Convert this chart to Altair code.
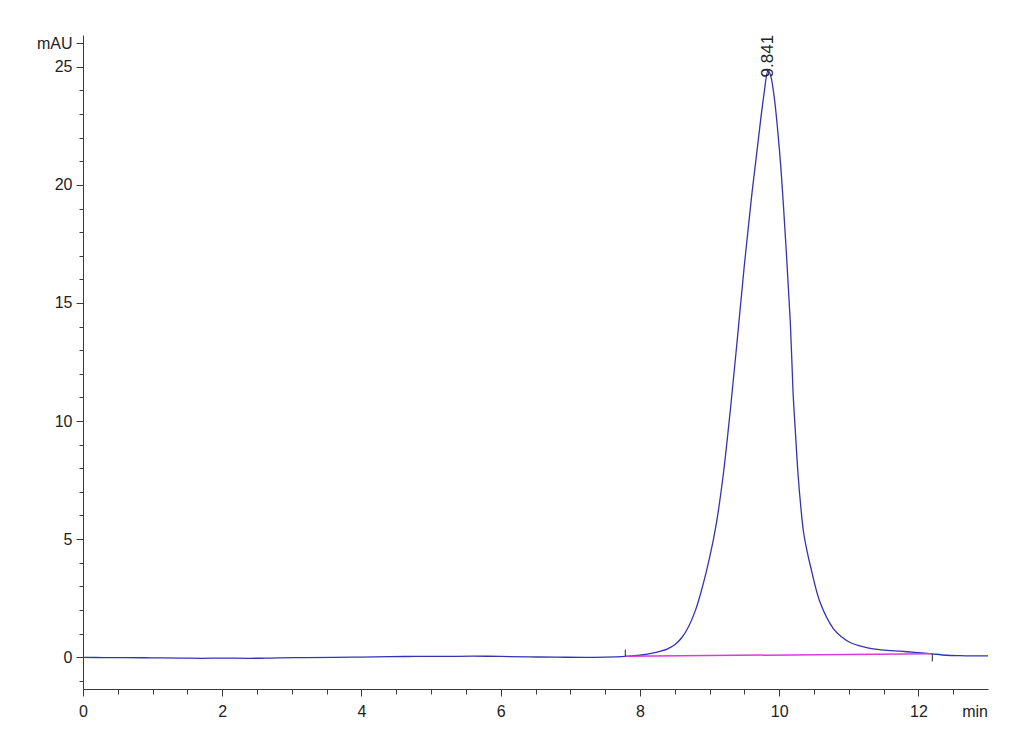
import altair as alt
import pandas as pd

# Chromatogram trace (time in min, absorbance in mAU)
time = [0.0, 0.3, 0.6, 1.0, 1.4, 1.7, 2.0, 2.4, 2.8, 3.2, 3.6, 4.0, 4.4, 4.8,
        5.2, 5.6, 6.0, 6.4, 6.8, 7.2, 7.5, 7.79, 8.0, 8.2, 8.39, 8.5, 8.6,
        8.7, 8.8, 8.9, 9.0, 9.1, 9.2, 9.3, 9.4, 9.5, 9.6, 9.7, 9.78, 9.841,
        9.88, 9.93, 9.97, 10.02, 10.06, 10.11, 10.16, 10.2, 10.23, 10.27, 10.31,
        10.35, 10.4, 10.45, 10.59, 10.78, 10.9, 11.02, 11.2, 11.35, 11.55,
        11.74, 11.95, 12.13, 12.2, 12.4, 12.6, 12.8, 13.0]
signal = [-0.01, -0.02, -0.02, -0.03, -0.04, -0.05, -0.04, -0.05, -0.03, -0.02,
          -0.01, 0.0, 0.02, 0.03, 0.03, 0.04, 0.03, 0.01, 0.0, -0.01, 0.0, 0.03,
          0.08, 0.18, 0.34, 0.52, 0.82, 1.3, 2.0, 3.0, 4.2, 5.7, 7.8, 10.5, 13.5,
          16.6, 19.4, 21.9, 23.8, 24.85, 24.6, 23.7, 22.6, 20.9, 19.2, 16.8,
          14.2, 11.2, 9.7, 7.8, 6.4, 5.3, 4.5, 3.85, 2.3, 1.2, 0.85, 0.62, 0.44,
          0.35, 0.29, 0.25, 0.2, 0.16, 0.14, 0.08, 0.06, 0.05, 0.05]

# Integration baseline
base_t = [7.79, 12.2]
base_v = [0.04, 0.14]

# Integration event ticks
event_t = [7.79, 12.2]
event_v1 = [0.04, 0.14]
event_v2 = [0.32, -0.18]

# Peak annotation
peak_t = [9.841]
peak_v = [24.85]
peak_lab = ["9.841"]

x_major = [0, 2, 4, 6, 8, 10, 12]
x_minor = [0.5, 1, 1.5, 2.5, 3, 3.5, 4.5, 5, 5.5, 6.5, 7, 7.5, 8.5, 9, 9.5,
           10.5, 11, 11.5, 12.5]
y_major = [0, 5, 10, 15, 20, 25, 26]
y_minor = [-1, 1, 2, 3, 4, 6, 7, 8, 9, 11, 12, 13, 14, 16, 17, 18, 19, 21, 22,
           23, 24]

W, H = 905, 654
FONT = "Liberation Sans Narrow, Liberation Sans, Arial, sans-serif"
AX = "#3a3a3a"

df = pd.DataFrame({"t": time, "v": signal})
bdf = pd.DataFrame({"t": base_t, "v": base_v})
edf = pd.DataFrame({"t": event_t, "v": event_v1, "v2": event_v2})
pdf = pd.DataFrame({"t": peak_t, "v": peak_v, "lab": peak_lab})

xs = alt.Scale(domain=[0, 13], nice=False, zero=False)
ys = alt.Scale(domain=[-1.35, 26.35], nice=False, zero=False)

common_axis = dict(domainColor=AX, tickColor=AX, grid=False, title=None,
                   labelFont=FONT, labelFontSize=16, labelColor="#222222")

x_axis_major = alt.Axis(values=x_major, orient="bottom", tickSize=7,
                        labelPadding=7, labelFlush=False, **common_axis)
y_axis_major = alt.Axis(values=y_major, orient="left", tickSize=7,
                        labelPadding=4,
                        labelExpr="datum.value == 26 ? 'mAU' : datum.label",
                        **common_axis)
x_axis_minor = alt.Axis(values=x_minor, orient="bottom", tickSize=5,
                        labels=False, domain=False, tickColor=AX, grid=False,
                        title=None)
y_axis_minor = alt.Axis(values=y_minor, orient="left", tickSize=4,
                        labels=False, domain=False, tickColor=AX, grid=False,
                        title=None)

trace = alt.Chart(df).mark_line(color="#3333b3", strokeWidth=1.3,
                                interpolate="catmull-rom").encode(
    x=alt.X("t:Q", scale=xs, axis=x_axis_major),
    y=alt.Y("v:Q", scale=ys, axis=y_axis_major),
)

minor = alt.Chart(df).mark_line(opacity=0).encode(
    x=alt.X("t:Q", scale=xs, axis=x_axis_minor),
    y=alt.Y("v:Q", scale=ys, axis=y_axis_minor),
)

baseline = alt.Chart(bdf).mark_line(color="#d93bd9", strokeWidth=1.5).encode(
    x=alt.X("t:Q", scale=xs, axis=None),
    y=alt.Y("v:Q", scale=ys, axis=None),
)

events = alt.Chart(edf).mark_rule(color="#222222", strokeWidth=1).encode(
    x=alt.X("t:Q", scale=xs, axis=None),
    y=alt.Y("v:Q", scale=ys, axis=None),
    y2="v2:Q",
)

peak = alt.Chart(pdf).mark_text(angle=270, align="left", baseline="middle",
                                dx=-7, font="Liberation Sans", fontSize=17,
                                color="#222222").encode(
    x=alt.X("t:Q", scale=xs, axis=None),
    y=alt.Y("v:Q", scale=ys, axis=None),
    text="lab:N",
)

unit = alt.Chart(pd.DataFrame({"lab": ["min"]})).mark_text(
    align="right", baseline="top", font=FONT, fontSize=16, color="#222222"
).encode(
    x=alt.value(W), y=alt.value(H + 15), text="lab:N"
)

chart = alt.layer(trace, minor, baseline, events, peak, unit).resolve_axis(
    x="independent", y="independent"
).properties(
    width=W, height=H,
    background="white",
    autosize=alt.AutoSizeParams(type="none"),
    padding={"left": 75, "top": 27, "right": 30, "bottom": 45},
).configure_view(stroke=None)

chart.save("out.html", embed_options={"renderer": "svg", "actions": False})
